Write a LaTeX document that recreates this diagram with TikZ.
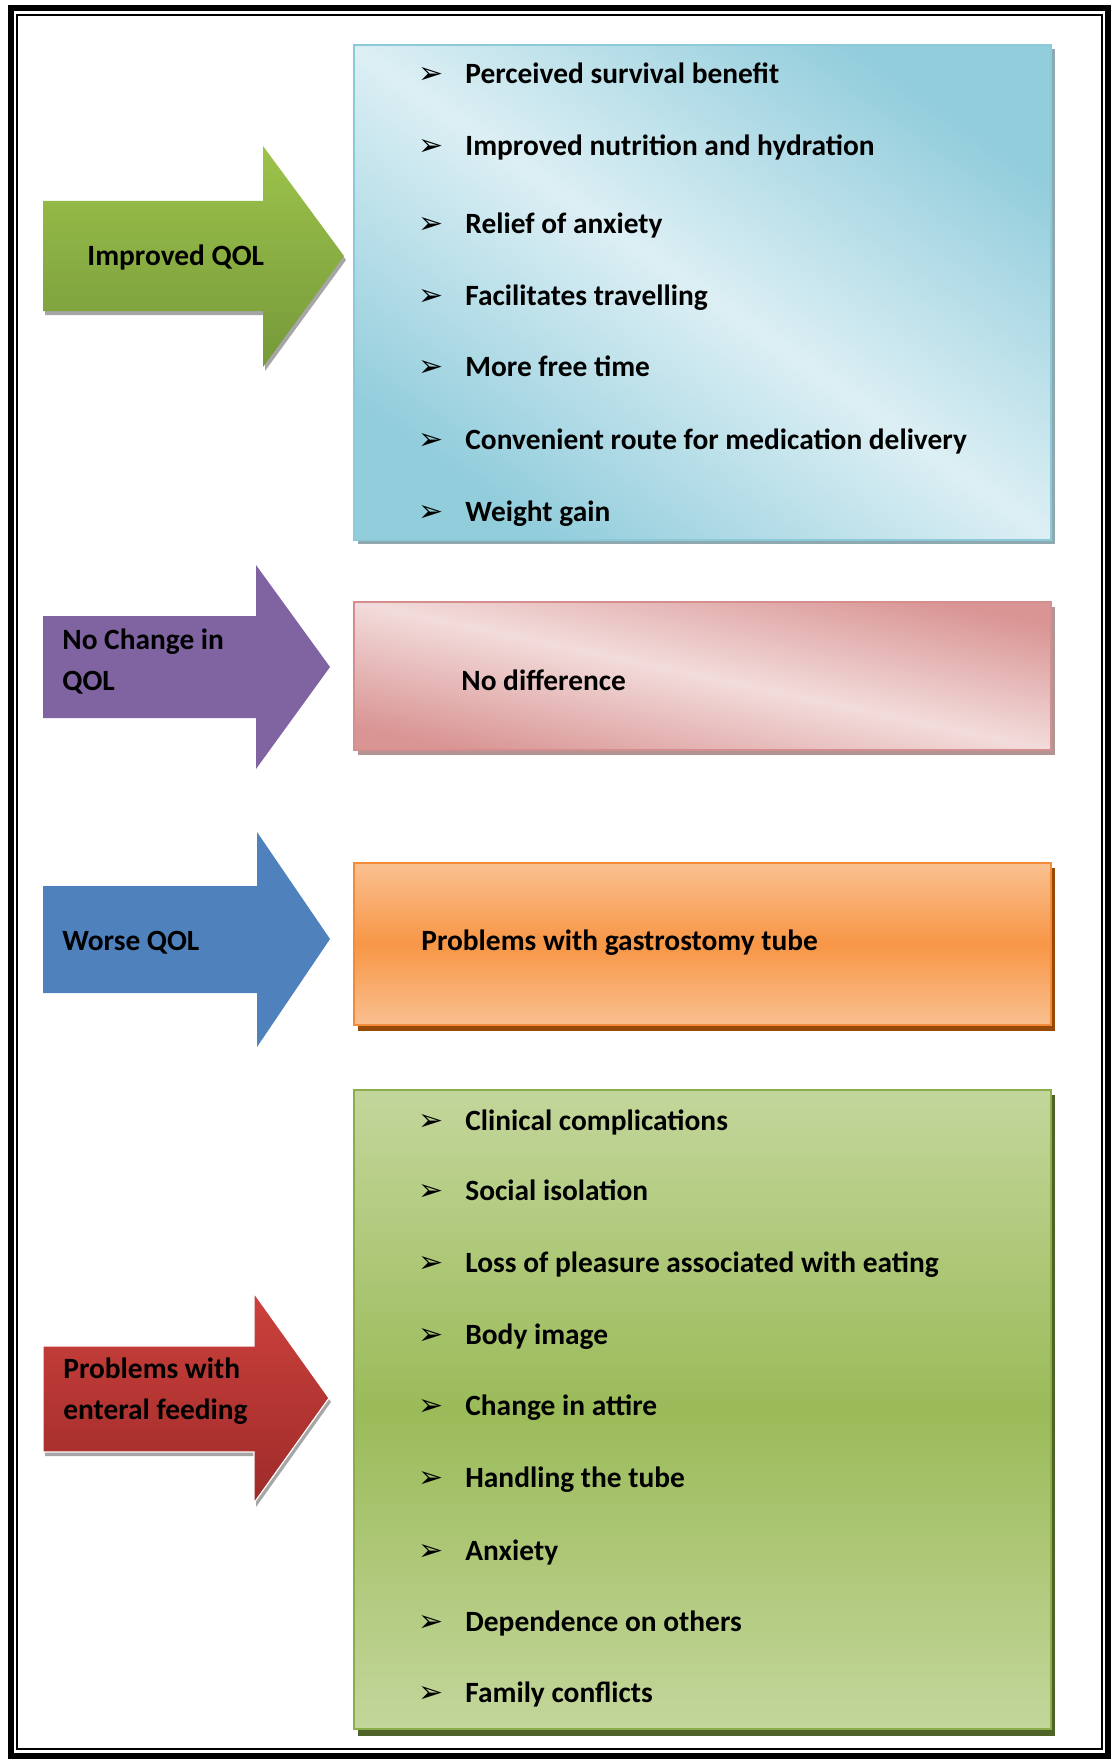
\documentclass[tikz,border=0pt]{standalone}
\usepackage{fontspec}
\setmainfont{Carlito}
\newfontfamily\symfont{DejaVu Sans}
\definecolor{blueD}{HTML}{92CDDC}
\definecolor{blueL}{HTML}{DCEFF4}
\definecolor{blueB}{HTML}{8CC9D9}
\definecolor{blueS}{HTML}{8FA9B1}
\definecolor{pinkD}{HTML}{D99594}
\definecolor{pinkL}{HTML}{F2DCDB}
\definecolor{pinkB}{HTML}{D38E8D}
\definecolor{pinkS}{HTML}{B39494}
\definecolor{orM}{HTML}{F79646}
\definecolor{orL}{HTML}{FAC090}
\definecolor{orB}{HTML}{F38C3A}
\definecolor{orS}{HTML}{984807}
\definecolor{grM}{HTML}{9BBB59}
\definecolor{grL}{HTML}{C3D69B}
\definecolor{grB}{HTML}{8AAE4A}
\definecolor{grS}{HTML}{4F6228}
\definecolor{arrGa}{HTML}{9DC34B}
\definecolor{arrGb}{HTML}{76993A}
\definecolor{arrP}{HTML}{8064A2}
\definecolor{arrB}{HTML}{4F81BD}
\definecolor{arrRa}{HTML}{CC413D}
\definecolor{arrRb}{HTML}{9E2B29}
\definecolor{arrS}{HTML}{A6A6A6}
\begin{document}
\begin{tikzpicture}[x=0.5pt,y=-0.5pt,
  lbl/.style={font=\fontsize{14.7}{20.5}\selectfont\bfseries, anchor=base west, inner sep=0pt, align=left},
  bul/.style={font=\symfont\fontsize{15}{15}\selectfont, anchor=base west, inner sep=0pt},
  boxline/.style={line width=1.1pt},
]
\useasboundingbox (0,0) rectangle (1115,1760);
\fill[white] (0,0) rectangle (1115,1760);
% frame
\draw[line width=3pt] (11,8) rectangle (1107.5,1755.5);
\draw[line width=0.8pt] (17,15) rectangle (1102,1749);

% ---------- arrows ----------
% green
\fill[arrS] (45,205) -- (265,205) -- (265,150) -- (346,260) -- (265,371) -- (265,315) -- (45,315) -- cycle;
\shade[top color=arrGa, bottom color=arrGb]
  (43,201) -- (263,201) -- (263,146) -- (344,256) -- (263,367) -- (263,311) -- (43,311) -- cycle;
\node[lbl] (a1) at (87,265) {Improved QOL};
% purple
\fill[arrP] (43,616) -- (256,616) -- (256,565) -- (330,667) -- (256,769) -- (256,718) -- (43,718) -- cycle;
\node[lbl] (a2) at (62,690) {No Change in\\QOL};
% blue
\fill[arrB] (43,886) -- (257,886) -- (257,832) -- (330,939) -- (257,1047) -- (257,993) -- (43,993) -- cycle;
\node[lbl] (a3) at (62,950) {Worse QOL};
% red
\fill[arrS] (45,1350) -- (256,1350) -- (256,1297) -- (331,1402) -- (256,1507) -- (256,1456) -- (45,1456) -- cycle;
\shade[top color=arrRa, bottom color=arrRb, draw=white, line width=0.6pt]
  (43,1346) -- (254,1346) -- (254,1293) -- (329,1398) -- (254,1503) -- (254,1452) -- (43,1452) -- cycle;
\node[lbl] (a4) at (63,1419) {Problems with\\enteral feeding};

% ---------- boxes ----------
% blue
\fill[blueS] (358,49) rectangle (1055,544);
\shade[top color=blueD, bottom color=blueD, middle color=blueL, shading angle=-35] (354,45) rectangle (1051,540);
\draw[blueB, boxline] (354,45) rectangle (1051,540);
% pink
\fill[pinkS] (358,607) rectangle (1055,755);
\shade[top color=pinkD, bottom color=pinkD, middle color=pinkL, shading angle=-12] (354,602) rectangle (1051,750);
\draw[pinkB, boxline] (354,602) rectangle (1051,750);
% orange
\fill[orS] (358,868) rectangle (1055,1031);
\shade[top color=orL, bottom color=orL, middle color=orM] (354,863) rectangle (1051,1025);
\draw[orB, boxline] (354,863) rectangle (1051,1025);
% green
\fill[grS] (358,1095) rectangle (1055,1736);
\shade[top color=grL, bottom color=grL, middle color=grM] (354,1090) rectangle (1051,1729);
\draw[grB, boxline] (354,1090) rectangle (1051,1729);

% ---------- texts ----------
\foreach \t/\y [count=\i] in {Perceived survival benefit/84, Improved nutrition and hydration/156,
  Relief of anxiety/234, Facilitates travelling/305, More free time/376,
  Convenient route for medication delivery/449, Weight gain/521} {
  \node[bul] (bb\i) at (418,\y) {➢};
  \node[lbl] (bt\i) at (465,\y) {\t};
}
\node[lbl] (nd) at (461,690) {No difference};
\node[lbl] (gt) at (421,950) {Problems with gastrostomy tube};
\foreach \t/\y [count=\i] in {Clinical complications/1130, Social isolation/1200,
  Loss of pleasure associated with eating/1272, Body image/1344, Change in attire/1415,
  Handling the tube/1487, Anxiety/1560, Dependence on others/1631, Family conflicts/1702} {
  \node[bul] (gb\i) at (418,\y) {➢};
  \node[lbl] (gt\i) at (465,\y) {\t};
}
\end{tikzpicture}
\end{document}
